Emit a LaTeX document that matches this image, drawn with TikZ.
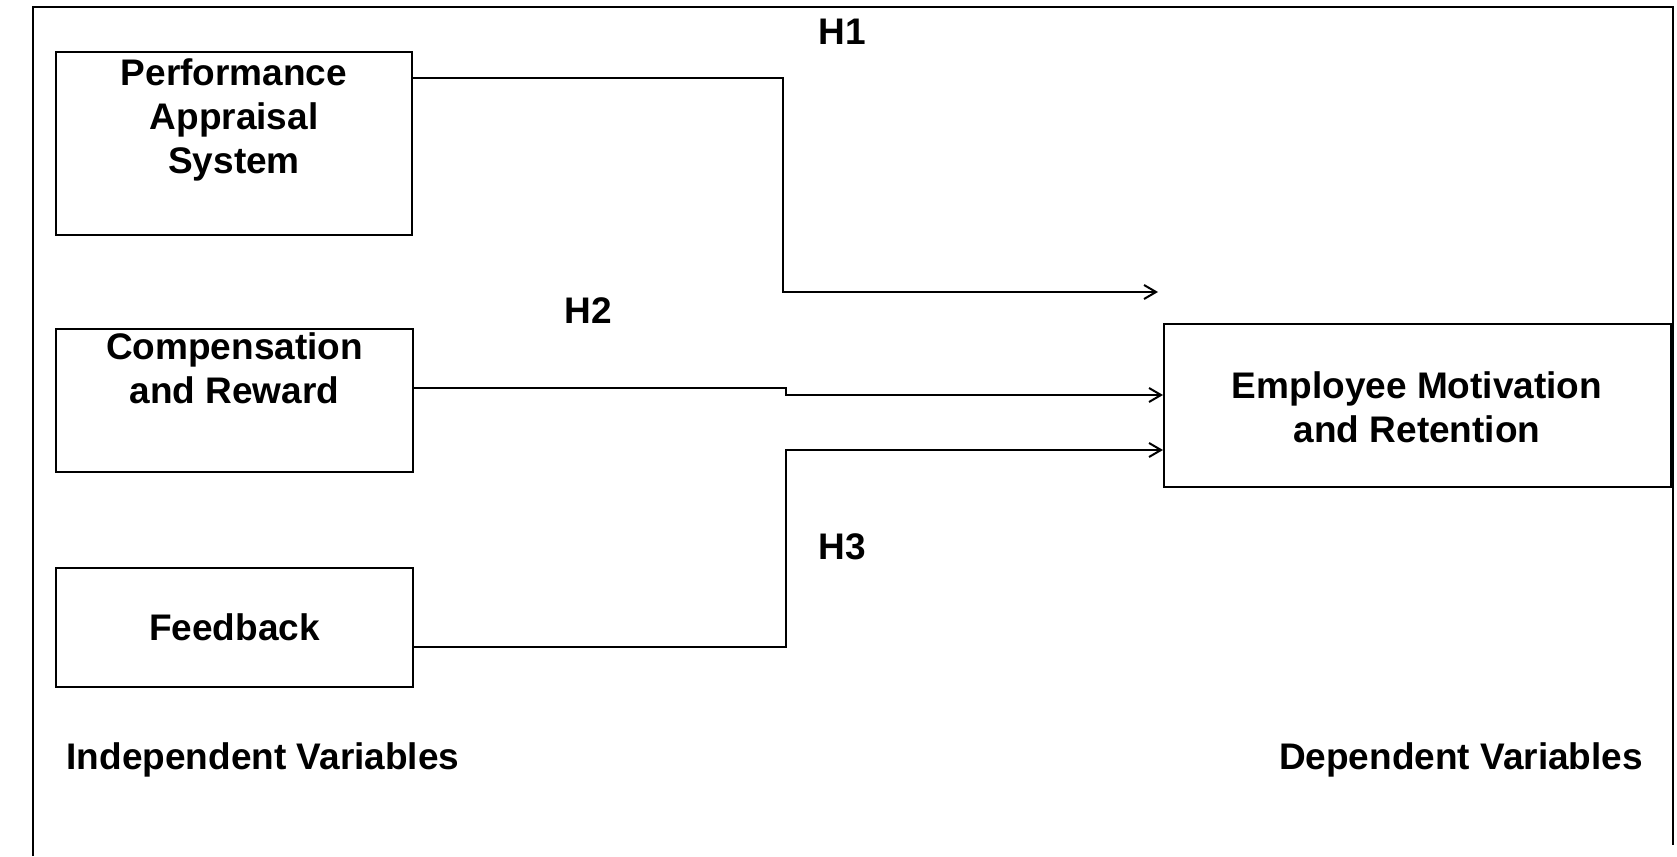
\documentclass[tikz,border=0pt]{standalone}
\usepackage{fontspec}
\setmainfont{Liberation Sans}
\usetikzlibrary{arrows.meta}
\begin{document}
\begin{tikzpicture}[x=1pt,y=-1pt,
  box/.style={draw,line width=2pt,inner sep=0pt},
  lbl/.style={font=\fontsize{37}{44}\selectfont\bfseries,align=center},
  conn/.style={line width=2pt,-{Straight Barb[length=12pt,width=14pt]}}]
\useasboundingbox (0,0) rectangle (1677,856);
\draw[line width=2.5pt] (33,856) -- (33,7) -- (1673,7) -- (1673,845);
\node[box,minimum width=356pt,minimum height=183pt] (pas) at (234,143.5) {};
\node[lbl,anchor=north] at (234,55) {Performance\\Appraisal\\System};
\node[box,minimum width=357pt,minimum height=143pt] (cr) at (234.5,400.5) {};
\node[lbl] at (234.5,368) {Compensation\\and Reward};
\node[box,minimum width=357pt,minimum height=119pt] (fb) at (234.5,627.5) {};
\node[lbl] at (234.5,627) {Feedback};
\node[box,minimum width=507pt,minimum height=163pt] (emr) at (1417.5,405.5) {};
\node[lbl] at (1417,407) {Employee Motivation\\and Retention};
\node[lbl] (h1) at (842,32) {H1};
\node[lbl] (h2) at (588,311) {H2};
\node[lbl] (h3) at (842,547) {H3};
\node[lbl] (iv) at (263,760) {Independent Variables};
\node[lbl] (dv) at (1461,760) {Dependent Variables};
\coordinate (t1) at (1158,292);
\draw[conn] (pas.east |- 0,78) -- (783,78) -- (783,292) -- (t1);
\draw[conn] (cr.east |- 0,388) -- (786,388) -- (786,395) -- (emr.west |- 0,395);
\draw[conn] (fb.east |- 0,647) -- (786,647) -- (786,450) -- (emr.west |- 0,450);
\end{tikzpicture}
\end{document}
